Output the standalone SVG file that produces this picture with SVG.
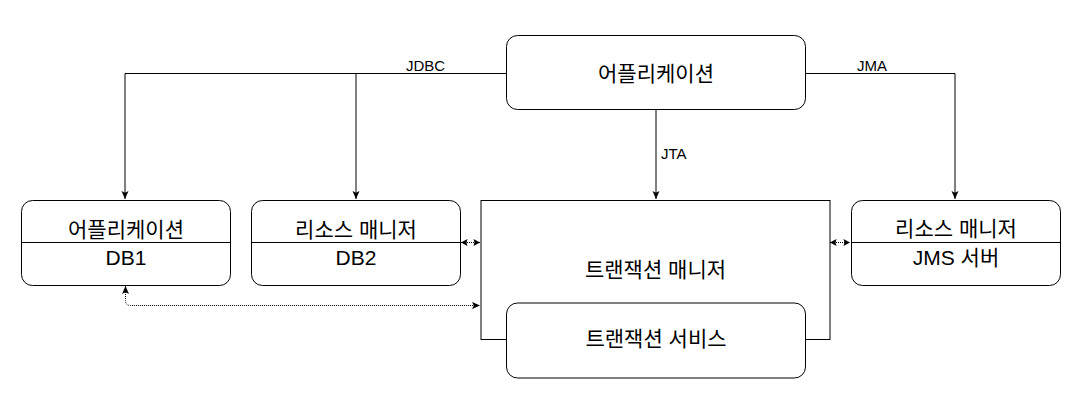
<svg xmlns="http://www.w3.org/2000/svg" width="1081" height="402" viewBox="0 0 1081 402">
  <style>
    .box { fill: #ffffff; stroke: #000000; stroke-width: 1; }
    .div { stroke: #000000; stroke-width: 1; }
    .t { font-family: "Liberation Sans", "Noto Sans CJK KR", sans-serif; font-size: 21px; fill: #000000; text-anchor: middle; }
    .lbl { font-family: "Liberation Sans", "Noto Sans CJK KR", sans-serif; font-size: 15px; fill: #000000; }
    .edge { fill: none; stroke: #000000; stroke-width: 1; }
    .dot { fill: none; stroke: #000000; stroke-width: 1; stroke-dasharray: 1 1; }
  </style>
  <defs>
    <marker id="arr" markerUnits="userSpaceOnUse" markerWidth="10" markerHeight="10" viewBox="0 0 10 10" refX="9" refY="5" orient="auto-start-reverse">
      <path d="M1,1.5 L9,5 L1,8.5 L2.8,5 Z" fill="#000000"/>
    </marker>
    <marker id="sarr" markerUnits="userSpaceOnUse" markerWidth="9" markerHeight="9" viewBox="0 0 9 9" refX="8" refY="4.5" orient="auto-start-reverse">
      <path d="M1.5,1 L8,4.5 L1.5,8 L2.5,4.5 Z" fill="#000000"/>
    </marker>
  </defs>

  <g id="connectors">
    <path class="edge" d="M506,73.5 H125 V199" marker-end="url(#arr)"/>
    <path class="edge" d="M356,73.5 V199" marker-end="url(#arr)"/>
    <path class="edge" d="M806,73.5 H955 V199" marker-end="url(#arr)"/>
    <path class="edge" d="M656,110 V199" marker-end="url(#arr)"/>
    <path class="dot" d="M461,242.5 H480" marker-start="url(#sarr)" marker-end="url(#sarr)"/>
    <path class="dot" d="M830,242.5 H850" marker-start="url(#sarr)" marker-end="url(#sarr)"/>
    <path class="dot" d="M125.5,286 V300.5 Q125.5,305.5 130.5,305.5 H480" marker-start="url(#arr)" marker-end="url(#arr)"/>
    <text class="lbl" x="406" y="71">JDBC</text>
    <text class="lbl" x="857" y="71">JMA</text>
    <text class="lbl" x="661" y="159">JTA</text>
  </g>

  <g id="app">
    <rect class="box" x="506.5" y="35.5" width="299" height="74" rx="11"/>
    <text class="t" x="656" y="81">어플리케이션</text>
  </g>

  <g id="db1">
    <rect class="box" x="21.5" y="200.5" width="209" height="85" rx="11"/>
    <line class="div" x1="21.5" y1="242.5" x2="230.5" y2="242.5"/>
    <text class="t" x="126" y="237">어플리케이션</text>
    <text class="t" x="126" y="265">DB1</text>
  </g>

  <g id="db2">
    <rect class="box" x="251.5" y="200.5" width="209" height="85" rx="11"/>
    <line class="div" x1="251.5" y1="242.5" x2="460.5" y2="242.5"/>
    <text class="t" x="356" y="237">리소스 매니저</text>
    <text class="t" x="356" y="265">DB2</text>
  </g>

  <g id="tm">
    <rect class="box" x="481" y="200.5" width="349" height="139"/>
    <text class="t" x="655.5" y="277">트랜잭션 매니저</text>
  </g>

  <g id="service">
    <rect class="box" x="506.5" y="303" width="299" height="75" rx="11"/>
    <text class="t" x="656" y="346">트랜잭션 서비스</text>
  </g>

  <g id="jms">
    <rect class="box" x="851.5" y="200.5" width="209" height="85" rx="11"/>
    <line class="div" x1="851.5" y1="242.5" x2="1060.5" y2="242.5"/>
    <text class="t" x="956" y="236">리소스 매니저</text>
    <text class="t" x="956" y="265">JMS 서버</text>
  </g>
</svg>
